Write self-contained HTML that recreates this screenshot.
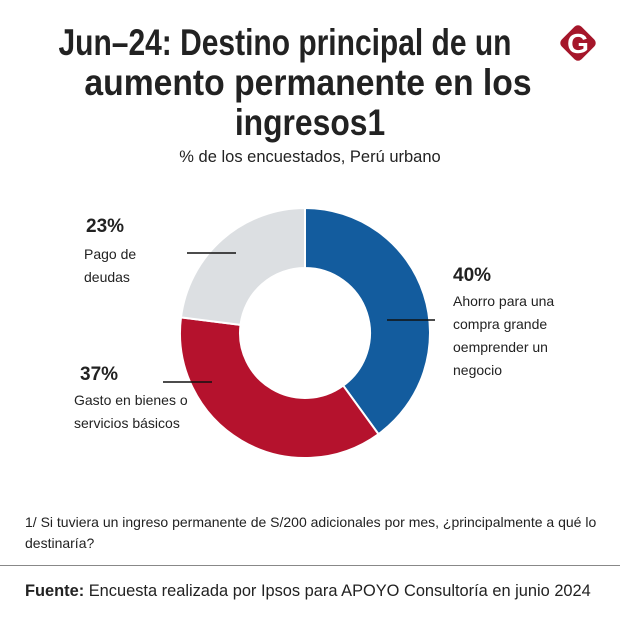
<!DOCTYPE html>
<html><head><meta charset="utf-8"><style>
body{margin:0;width:620px;height:627px;background:#fff;position:relative;overflow:hidden;font-family:"Liberation Sans",sans-serif;color:#222}
.t{position:absolute;width:620px;text-align:center;font-family:"Liberation Sans",sans-serif;font-weight:bold;font-size:37px;color:#222;white-space:nowrap;transform-origin:50% 50%}
.lab{position:absolute;font-size:14px;line-height:23px;color:#222}
.pct{position:absolute;font-size:19px;font-weight:bold;color:#222}
</style></head><body>
<div class="t" style="top:22px;left:-25px;transform:scaleX(0.81)">Jun–24: Destino principal de un</div>
<div class="t" style="top:62px;left:-2px;transform:scaleX(0.91)">aumento permanente en los</div>
<div class="t" style="top:102px;left:0px;transform:scaleX(0.86)">ingresos1</div>
<div style="position:absolute;top:148px;left:0;width:620px;text-align:center;font-size:16.5px"><span style="position:relative;left:0px">% de los encuestados, Perú urbano</span></div>
<svg style="position:absolute;left:555px;top:20px" width="46" height="46" viewBox="0 0 46 46">
<rect x="9" y="9" width="28" height="28" rx="5" fill="#a5162a" transform="rotate(45 23 23)"/>
<text x="23" y="33" text-anchor="middle" font-family="Liberation Sans" font-weight="bold" font-size="28" fill="#fff">G</text></svg>
<svg id="chart" style="position:absolute;left:0;top:0" width="620" height="627"></svg>
<div class="pct" style="left:453px;top:265px">40%</div>
<div class="lab" style="left:453px;top:290px">Ahorro para una<br>compra grande<br>oemprender un<br>negocio</div>
<div class="pct" style="left:80px;top:364px">37%</div>
<div class="lab" style="left:74px;top:389px">Gasto en bienes o<br>servicios básicos</div>
<div class="pct" style="left:86px;top:216px">23%</div>
<div class="lab" style="left:84px;top:243px">Pago de<br>deudas</div>
<div style="position:absolute;left:25px;top:512px;font-size:14px;line-height:21px;width:580px">1/ Si tuviera un ingreso permanente de S/200 adicionales por mes, ¿principalmente a qué lo destinaría?</div>
<div style="position:absolute;left:0;top:565px;width:620px;height:1px;background:#888"></div>
<div style="position:absolute;left:25px;top:582px;font-size:16.4px;white-space:nowrap"><b>Fuente:</b> Encuesta realizada por Ipsos para APOYO Consultoría en junio 2024</div>
<script>
const categories=["Ahorro para una compra grande o emprender un negocio","Gasto en bienes o servicios básicos","Pago de deudas"];
const values=[40,37,23];
const colors=["#135c9e","#b5122d","#dcdfe2"];
const cx=305,cy=333,R=125,r=65;
const svg=document.getElementById('chart');
const total=values.reduce((a,b)=>a+b,0);
function pt(a,rad){return [cx+rad*Math.sin(a),cy-rad*Math.cos(a)];}
let acc=0;
values.forEach((v,i)=>{
 const a0=acc/total*2*Math.PI,a1=(acc+v)/total*2*Math.PI;acc+=v;
 const lg=(a1-a0)>Math.PI?1:0;
 const [x0,y0]=pt(a0,R),[x1,y1]=pt(a1,R),[x2,y2]=pt(a1,r),[x3,y3]=pt(a0,r);
 const p=document.createElementNS('http://www.w3.org/2000/svg','path');
 p.setAttribute('d',`M${x0},${y0}A${R},${R} 0 ${lg} 1 ${x1},${y1}L${x2},${y2}A${r},${r} 0 ${lg} 0 ${x3},${y3}Z`);
 p.setAttribute('fill',colors[i]);p.setAttribute('stroke','#fff');p.setAttribute('stroke-width','2');
 
 
 svg.appendChild(p);
});
const leaders=[[387,320,435,320],[163,382,212,382],[187,253,236,253]];
leaders.forEach((l,i)=>{
 const ln=document.createElementNS('http://www.w3.org/2000/svg','line');
 ln.setAttribute('x1',l[0]);ln.setAttribute('y1',l[1]);ln.setAttribute('x2',l[2]);ln.setAttribute('y2',l[3]);
 ln.setAttribute('stroke','#111');ln.setAttribute('stroke-width','1.5');
 
 
 svg.appendChild(ln);
});
</script>
</body></html>
